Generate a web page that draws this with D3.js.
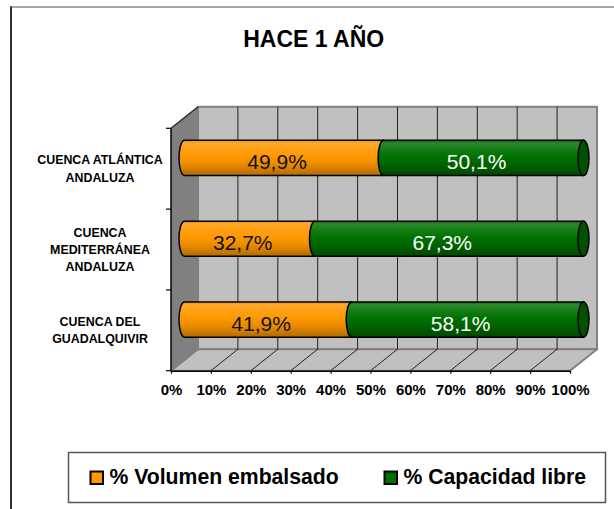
<!DOCTYPE html>
<html>
<head>
<meta charset="utf-8">
<script src="https://cdn.jsdelivr.net/npm/d3@7"></script>
<style>
  html, body { margin: 0; padding: 0; background: #fff; }
  svg { display: block; font-family: "Liberation Sans", Arial, sans-serif; }
</style>
</head>
<body>
<svg id="chart" width="614" height="509"></svg>
<script>
// ---- data ----
const title = "HACE 1 AÑO";
const categories = ["CUENCA ATLÁNTICA ANDALUZA", "CUENCA MEDITERRÁNEA ANDALUZA", "CUENCA DEL GUADALQUIVIR"];
const categoryLines = [["CUENCA ATLÁNTICA", "ANDALUZA"], ["CUENCA", "MEDITERRÁNEA", "ANDALUZA"], ["CUENCA DEL", "GUADALQUIVIR"]];
const volumenEmbalsado = [49.9, 32.7, 41.9];
const capacidadLibre = [50.1, 67.3, 58.1];
const seriesNames = ["% Volumen embalsado", "% Capacidad libre"];
const xTicks = [0, 10, 20, 30, 40, 50, 60, 70, 80, 90, 100];

// ---- layout ----
const svg = d3.select("#chart");
const fx0 = 171, fx1 = 570, fy0 = 128.3, fy1 = 370.7;
const dx = 27, dy = -21.5;
const x = d3.scaleLinear().domain([0, 100]).range([fx0, fx1]);
const y = d3.scaleBand().domain(categories).range([fy0, fy1]).padding(0);
const fmt = v => v.toFixed(1).replace(".", ",") + "%";

// outer border
svg.append("line").attr("x1", 10).attr("y1", 7).attr("x2", 614).attr("y2", 7)
  .attr("stroke", "#8a8a8a").attr("stroke-width", 1.5);
svg.append("line").attr("x1", 11).attr("y1", 6.5).attr("x2", 11).attr("y2", 509)
  .attr("stroke", "#333").attr("stroke-width", 2);

// title
svg.append("text").attr("x", 313.7).attr("y", 47.3).attr("text-anchor", "middle")
  .attr("font-size", 23).attr("font-weight", "bold").attr("fill", "#000").text(title);

// gradients
const defs = svg.append("defs");
function grad(id, stops) {
  const g = defs.append("linearGradient").attr("id", id)
    .attr("x1", 0).attr("y1", 0).attr("x2", 0).attr("y2", 1);
  stops.forEach(s => g.append("stop").attr("offset", s[0]).attr("stop-color", s[1]));
}
grad("gOrange", [[0, "#E89010"], [0.08, "#FFA82A"], [0.2, "#FFA21A"], [0.45, "#FF9900"], [0.7, "#E88A00"], [1, "#B06A00"]]);
grad("gGreen", [[0, "#0A650A"], [0.08, "#2A8A2A"], [0.2, "#1C801C"], [0.45, "#007200"], [0.7, "#006200"], [1, "#004600"]]);

// back wall
svg.append("rect").attr("x", x(0) + dx).attr("y", fy0 + dy)
  .attr("width", x(100) - x(0)).attr("height", fy1 - fy0)
  .attr("fill", "#C0C0C0").attr("stroke", "#808080").attr("stroke-width", 2);
// floor
svg.append("path")
  .attr("d", `M${x(0)},${fy1} L${x(100)},${fy1} L${x(100) + dx},${fy1 + dy} L${x(0) + dx},${fy1 + dy} Z`)
  .attr("fill", "#C0C0C0").attr("stroke", "#808080").attr("stroke-width", 2).attr("stroke-linejoin", "round");
// gridlines on back wall
svg.append("g").selectAll("line").data(xTicks.slice(1, -1)).join("line")
  .attr("x1", d => x(d) + dx).attr("x2", d => x(d) + dx)
  .attr("y1", fy0 + dy).attr("y2", fy1 + dy)
  .attr("stroke", "#222").attr("stroke-width", 1);
// floor gridlines
svg.append("g").selectAll("line").data(xTicks.slice(1, -1)).join("line")
  .attr("x1", d => x(d)).attr("y1", fy1)
  .attr("x2", d => x(d) + dx).attr("y2", fy1 + dy)
  .attr("stroke", "#222").attr("stroke-width", 1);
// left wall
svg.append("path")
  .attr("d", `M${fx0},${fy0} L${fx0 + dx},${fy0 + dy} L${fx0 + dx},${fy1 + dy} L${fx0},${fy1} Z`)
  .attr("fill", "#808080");
svg.append("line").attr("x1", fx0).attr("y1", fy0).attr("x2", fx0 + dx).attr("y2", fy0 + dy)
  .attr("stroke", "#222").attr("stroke-width", 1.2);

// y axis
svg.append("line").attr("x1", fx0).attr("x2", fx0).attr("y1", fy0).attr("y2", fy1)
  .attr("stroke", "#000").attr("stroke-width", 1.5);
const bounds = categories.map(c => y(c)).concat([fy1]);
svg.append("g").selectAll("line").data(bounds).join("line")
  .attr("x1", fx0 - 5).attr("x2", fx0).attr("y1", d => d).attr("y2", d => d)
  .attr("stroke", "#000").attr("stroke-width", 1.2);
// category labels
const lh = 17.2;
categories.forEach((c, i) => {
  const lines = categoryLines[i];
  const cy = y(c) + y.bandwidth() / 2;
  const firstBase = cy + 4.3 - (lines.length - 1) * lh / 2;
  const t = svg.append("text").attr("text-anchor", "middle").attr("font-size", 12.4)
    .attr("font-weight", "bold").attr("fill", "#000");
  lines.forEach((ln, k) => t.append("tspan").attr("x", 100).attr("y", firstBase + k * lh).text(ln));
});

// x axis
const xAxis = d3.axisBottom(x).tickValues(xTicks).tickSize(3).tickSizeOuter(0)
  .tickPadding(10.2).tickFormat(d => d + "%");
const gx = svg.append("g").attr("transform", `translate(0,${fy1})`).call(xAxis);
gx.select(".domain").attr("stroke", "#000").attr("stroke-width", 1.5);
gx.selectAll(".tick line").attr("stroke", "#000").attr("stroke-width", 1.2);
gx.selectAll(".tick text").attr("font-size", 15).attr("font-weight", "bold")
  .attr("font-family", "'Liberation Sans', Arial, sans-serif").attr("fill", "#000");

// bars (cylinders at mid depth)
const mx = dx / 2, my = dy / 2;
const rx = 5.5;
const barH = y.bandwidth() * 0.436;
const ry = barH / 2;
function segPath(a, b, c) {
  return `M${a},${c - ry} L${b},${c - ry} L${b},${c + ry} L${a},${c + ry} A${rx},${ry} 0 0 1 ${a},${c - ry} Z`;
}
categories.forEach((cat, i) => {
  const c = y(cat) + y.bandwidth() / 2 + my;
  const a = x(0) + mx;
  const m = x(volumenEmbalsado[i]) + mx;
  const b = x(volumenEmbalsado[i] + capacidadLibre[i]) + mx;
  svg.append("path").attr("d", segPath(a, m, c)).attr("fill", "url(#gOrange)")
    .attr("stroke", "#000").attr("stroke-width", 1.5);
  svg.append("path").attr("d", segPath(m, b, c)).attr("fill", "url(#gGreen)")
    .attr("stroke", "#000").attr("stroke-width", 1.5);
  svg.append("ellipse").attr("cx", b).attr("cy", c).attr("rx", rx).attr("ry", ry)
    .attr("fill", "#005200").attr("stroke", "#000").attr("stroke-width", 1.5);
  svg.append("text").attr("x", (a + m) / 2 - 7).attr("y", c + 11).attr("text-anchor", "middle")
    .attr("font-size", 21).attr("fill", "#111").text(fmt(volumenEmbalsado[i]));
  svg.append("text").attr("x", (m + b) / 2 - 7).attr("y", c + 11).attr("text-anchor", "middle")
    .attr("font-size", 21).attr("fill", "#fff").text(fmt(capacidadLibre[i]));
});

// legend
svg.append("rect").attr("x", 68.5).attr("y", 452.5).attr("width", 537).attr("height", 50)
  .attr("fill", "#fff").attr("stroke", "#555").attr("stroke-width", 1.5);
const legColors = ["#FF9900", "#007000"];
const legX = [90.5, 384.5];
seriesNames.forEach((s, i) => {
  svg.append("rect").attr("x", legX[i]).attr("y", 471.5).attr("width", 12.5).attr("height", 12.5)
    .attr("fill", legColors[i]).attr("stroke", "#000").attr("stroke-width", 2);
  svg.append("text").attr("x", legX[i] + 19).attr("y", 484.3).attr("font-size", 21.2)
    .attr("font-weight", "bold").attr("fill", "#000").text(s);
});
</script>
</body>
</html>
